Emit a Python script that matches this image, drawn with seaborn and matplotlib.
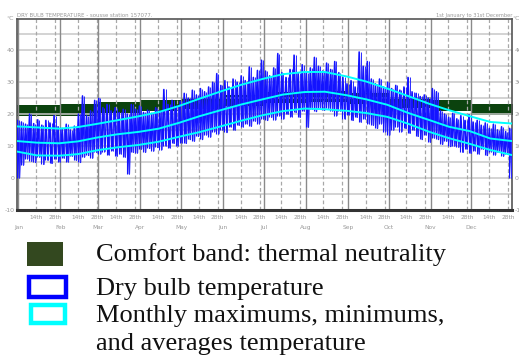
import matplotlib
matplotlib.use("Agg")
import matplotlib.pyplot as plt
from matplotlib.patches import Rectangle
import seaborn as sns
import numpy as np
import pandas as pd

# ---------------- data ----------------
month_names = ["Jan", "Feb", "Mar", "Apr", "May", "Jun",
               "Jul", "Aug", "Sep", "Oct", "Nov", "Dec"]
month_start_day = [1, 32, 60, 91, 121, 152, 182, 213, 244, 274, 305, 335]

# comfort band (thermal neutrality) per month, lower and upper bound
comfort_low = [19.3, 19.5, 20.2, 20.8, 21.6, 22.6, 23.5, 23.8, 23.0, 22.0, 20.8, 19.6]
comfort_high = [22.8, 23.2, 23.8, 24.4, 25.0, 26.0, 27.0, 27.2, 26.5, 25.4, 24.3, 23.1]

# monthly max / average / min curves (day of year, °C)
curve_day = [0, 14.5, 31, 45, 59, 73.5, 90, 104.5, 120, 134.5, 151, 165.5, 181,
             196, 212, 227, 243, 257.5, 273, 288, 304, 318.5, 334, 349, 365]
monthly_max = [16.1, 15.8, 15.4, 15.9, 16.9, 18.0, 19.3, 20.6, 22.6, 24.8, 27.2, 29.2, 31.0,
               32.5, 33.2, 33.2, 31.8, 30.2, 28.0, 25.7, 23.2, 21.2, 19.3, 17.5, 17.0]
monthly_avg = [11.5, 11.0, 10.8, 11.4, 12.6, 13.6, 14.4, 15.4, 17.3, 19.3, 21.3, 23.0, 24.6,
               26.1, 26.9, 27.0, 25.9, 24.6, 22.9, 20.4, 18.1, 16.0, 14.6, 12.3, 11.5]
monthly_min = [8.2, 7.0, 6.9, 7.4, 8.6, 9.5, 10.3, 11.3, 12.9, 14.3, 16.2, 17.9, 19.6,
               20.9, 21.7, 21.5, 21.0, 20.3, 19.1, 17.0, 14.4, 12.4, 10.6, 8.7, 7.1]

# dry bulb temperature: highs and lows, one pair every 3 days
dbt_day = list(range(0, 364, 3))
dbt_high = [18.0, 17.5, 16.8, 20.0, 17.0, 18.2, 16.5, 18.0, 17.2, 19.5,
            16.0, 15.5, 16.8, 15.0, 16.2, 20.0, 25.7, 19.5, 21.0, 24.3,
            24.9, 22.0, 23.0, 21.0, 22.0, 20.5, 21.5, 20.0, 23.0, 21.5,
            22.5, 20.5, 21.2, 20.2, 22.0, 21.0, 27.7, 23.0, 24.3, 22.5,
            24.0, 26.5, 25.0, 27.5, 26.0, 28.0, 27.0, 28.5, 30.0, 32.7,
            29.0, 30.5, 28.5, 31.0, 30.0, 32.0, 30.5, 34.8, 31.5, 33.7,
            36.9, 33.5, 32.0, 34.5, 39.0, 33.0, 31.5, 34.0, 38.5, 33.0,
            35.5, 33.0, 34.5, 37.8, 35.0, 33.5, 36.0, 34.0, 36.5, 33.0,
            31.5, 29.5, 30.5, 28.5, 39.5, 35.0, 36.5, 31.0, 29.5, 31.0,
            28.5, 30.0, 28.0, 29.0, 27.5, 28.5, 31.5, 27.0, 26.5, 25.5,
            26.0, 25.0, 28.0, 27.0, 21.0, 20.0, 19.0, 20.2, 18.5, 19.5,
            18.0, 19.8, 17.5, 18.0, 16.5, 17.2, 15.5, 16.8, 15.0, 16.0,
            14.5, 15.5]
dbt_low = [0.0, 4.0, 6.0, 5.2, 4.8, 6.5, 4.2, 5.5, 4.5, 6.0,
           5.0, 6.2, 5.0, 6.8, 5.5, 4.8, 6.5, 7.0, 6.2, 8.0,
           7.5, 8.2, 7.2, 8.5, 6.8, 7.5, 6.5, 1.2, 8.0, 7.8,
           9.0, 8.0, 9.2, 8.4, 9.5, 8.8, 10.0, 9.4, 10.8, 10.0,
           11.0, 10.8, 12.0, 11.5, 13.0, 12.0, 13.5, 12.8, 14.5, 13.8,
           15.0, 14.2, 16.0, 15.0, 16.5, 16.0, 17.0, 16.2, 17.8, 17.0,
           18.5, 18.0, 19.0, 18.2, 19.5, 18.5, 20.0, 19.2, 20.5, 19.0,
           21.0, 15.9, 21.5, 20.8, 22.0, 21.2, 21.8, 21.0, 19.5, 21.0,
           18.5, 19.8, 18.0, 19.0, 17.5, 18.5, 17.0, 16.5, 15.5, 17.0,
           14.5, 13.4, 15.0, 16.0, 14.5, 15.5, 14.0, 15.0, 13.0, 12.0,
           13.5, 11.2, 12.5, 12.0, 10.5, 11.5, 9.8, 10.0, 9.6, 8.0,
           9.0, 7.7, 8.5, 7.5, 9.0, 7.0, 8.2, 7.2, 8.0, 6.8,
           7.5, 0.0]

y_tick_values = [-10, 0, 10, 20, 30, 40]

# ---------------- figure ----------------
sns.set_style("white")
plt.rcParams["font.family"] = ["DejaVu Sans"]

W, H = 519, 361
fig = plt.figure(figsize=(W / 100, H / 100), dpi=100)
ax = fig.add_axes([17 / W, 1 - 209.5 / H, (512 - 17) / W, (209.5 - 18.5) / H])
ax.set_xlim(0, 365)
ax.set_ylim(-10, 50)

# horizontal grid every 5 degrees
for yv in range(-5, 50, 5):
    ax.axhline(yv, color="#c8c8c8", lw=1.1, zorder=1)

# vertical grid: month starts solid, 14th / 28th dashed
minor_pos, minor_lab = [], []
for ms in month_start_day:
    ax.axvline(ms, color="#8a8a8a", lw=1.0, zorder=1)
    for dd, lab in ((13, "14th"), (27, "28th")):
        ax.axvline(ms + dd, color="#a8a8a8", lw=0.9, ls=(0, (3, 2)), zorder=1)
        minor_pos.append(ms + dd)
        minor_lab.append(lab)

# comfort band (monthly steps)
band_x = [0] + month_start_day[1:] + [366]
band_lo = comfort_low + [comfort_low[-1]]
band_hi = comfort_high + [comfort_high[-1]]
ax.fill_between(band_x, band_lo, band_hi, step="post", color="#0b420e",
                lw=0, zorder=0.5)

# dry bulb temperature zigzag
zx, zy = [], []
for d, hi, lo in zip(dbt_day, dbt_high, dbt_low):
    zx += [d + 0.3, d + 1.8]
    zy += [hi, lo]
dbt_df = pd.DataFrame({"day": zx, "temp": zy})
sns.lineplot(data=dbt_df, x="day", y="temp", ax=ax, color="#1414ff",
             lw=1.1, estimator=None, sort=False, zorder=3)
ax.vlines(dbt_day, dbt_low, dbt_high, color="#1414ff", lw=0.8, zorder=3)
ax.vlines([d + 1.5 for d in dbt_day], dbt_low, dbt_high, color="#2a2aff",
          lw=0.7, zorder=3)

# monthly curves
curves = pd.DataFrame({"day": curve_day * 3,
                       "temp": monthly_max + monthly_avg + monthly_min,
                       "kind": ["max"] * 25 + ["avg"] * 25 + ["min"] * 25})
sns.lineplot(data=curves, x="day", y="temp", units="kind", estimator=None,
             ax=ax, color="#00ffff", lw=1.4, zorder=4, sort=False)

# axes styling
for side in ["left", "right", "top"]:
    ax.spines[side].set_color("#555555")
    ax.spines[side].set_linewidth(1.2)
ax.spines["bottom"].set_color("#333333")
ax.spines["bottom"].set_linewidth(2.2)
ax.set_xlabel("")
ax.set_ylabel("")

ax.set_yticks(y_tick_values)
ax.set_yticklabels([str(v) for v in y_tick_values])
ax.tick_params(axis="y", length=0, labelsize=4.5, colors="#999999",
               labelright=True, pad=2)

ax.set_xticks([ms for ms in month_start_day])
ax.set_xticklabels(month_names)
ax.set_xticks(minor_pos, minor=True)
ax.set_xticklabels(minor_lab, minor=True)
ax.tick_params(axis="x", which="major", length=0, labelsize=4.2,
               colors="#999999", pad=11.5)
ax.tick_params(axis="x", which="minor", length=0, labelsize=4.2,
               colors="#999999", pad=4)

# header texts
ax.text(0, 1.004, "DRY BULB TEMPERATURE - sousse station 157077.",
        transform=ax.transAxes, ha="left", va="bottom", fontsize=3.9,
        color="#999999")
ax.text(1.0, 1.004, "1st January to 31st December", transform=ax.transAxes,
        ha="right", va="bottom", fontsize=3.7, color="#999999")
fig.text(10 / W, 1 - 19 / H, "°C", ha="center", va="center", fontsize=4.5,
         color="#999999")
fig.text(516 / W, 1 - 18 / H, "°C", ha="center", va="center", fontsize=4.5,
         color="#999999")

# ---------------- legend ----------------
def frect(x0, y0, x1, y1, **kw):
    fig.patches.append(Rectangle((x0 / W, 1 - y1 / H), (x1 - x0) / W,
                                 (y1 - y0) / H, transform=fig.transFigure,
                                 figure=fig, **kw))

frect(27, 242, 63, 266, facecolor="#33481f", edgecolor="none")
frect(29, 277, 65.5, 296.5, facecolor="white", edgecolor="#0000ff", lw=3.2)
frect(31, 305, 65, 323, facecolor="white", edgecolor="#00ffff", lw=3.2)

legend_lines = ["Comfort band: thermal neutrality", "Dry bulb temperature",
                "Monthly maximums, minimums,", "and averages temperature"]
baselines = [261, 294.5, 322, 350]
for txt, yb in zip(legend_lines, baselines):
    fig.text(96 / W, 1 - yb / H, txt, ha="left", va="baseline",
             fontsize=19.0, family="Liberation Serif", color="#111111")

fig.savefig("out.png", dpi=100)
